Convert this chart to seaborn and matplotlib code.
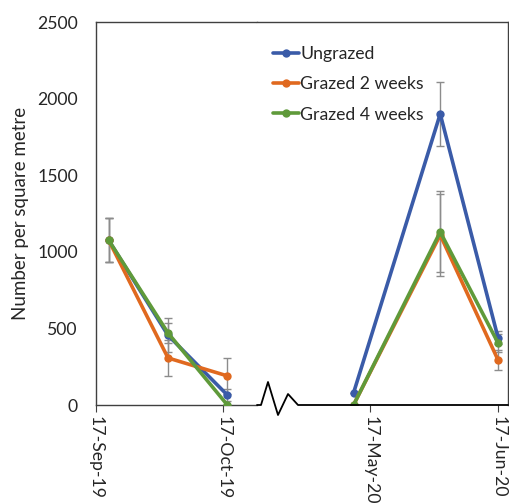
import pandas as pd
import matplotlib
matplotlib.use('Agg')
import matplotlib.pyplot as plt
import matplotlib.dates as mdates
import seaborn as sns

# sampling dates (two seasons, drawn on a broken axis)
left_dates = ['2019-09-20', '2019-10-04', '2019-10-18']
right_dates = ['2020-05-13', '2020-06-03', '2020-06-17']

treatments = ['Ungrazed', 'Grazed 2 weeks', 'Grazed 4 weeks']
colors = ['#3a5ba8', '#e0691f', '#5f9a3a']

ungrazed = [1075, 455, 65, 78, 1900, 440]
ungrazed_err = [144, 110, 40, 0, 210, 45]
grazed2 = [1075, 307, 190, 0, 1110, 294]
grazed2_err = [144, 117, 117, 0, 265, 65]
grazed4 = [1075, 470, 0, 0, 1130, 405]
grazed4_err = [144, 65, 0, 0, 265, 60]

left_ticks = ['2019-09-17', '2019-10-17']
right_ticks = ['2020-05-17', '2020-06-17']

sns.set_style('white')
plt.rcParams['font.family'] = ['Lato', 'DejaVu Sans']
fs = 12.7

dates = pd.to_datetime(left_dates + right_dates)
values = [ungrazed, grazed2, grazed4]
errors = [ungrazed_err, grazed2_err, grazed4_err]
rows = []
for t, v in zip(treatments, values):
    for d, val in zip(dates, v):
        rows.append({'date': d, 'value': val, 'treatment': t})
df = pd.DataFrame(rows)
df['season'] = ['left' if d.year == 2019 else 'right' for d in df['date']]

W, H = 510, 504
fig = plt.figure(figsize=(W / 100, H / 100), dpi=100)
x0, xb, x1 = 96, 257, 508
y_top, y_bot = 22, 405
axl = fig.add_axes([x0 / W, 1 - y_bot / H, (xb - x0) / W, (y_bot - y_top) / H])
axr = fig.add_axes([xb / W, 1 - y_bot / H, (x1 - xb) / W, (y_bot - y_top) / H])

spine_col = '#404040'
for ax, season, ticks in [(axl, 'left', left_ticks), (axr, 'right', right_ticks)]:
    sub = df[df['season'] == season]
    # error bars first so they sit behind the lines
    for t, e in zip(treatments, errors):
        s = sub[sub['treatment'] == t]
        idx = [0, 1, 2] if season == 'left' else [3, 4, 5]
        ax.errorbar(s['date'], s['value'], yerr=[e[i] for i in idx], fmt='none',
                    ecolor='#8c8c8c', elinewidth=1, capsize=3, capthick=1, zorder=1)
    sns.lineplot(data=sub, x='date', y='value', hue='treatment', hue_order=treatments,
                 palette=colors, marker='o', markersize=6, markeredgewidth=0,
                 linewidth=2.6, ax=ax, legend=(season == 'right'), zorder=3)
    ax.set_ylim(0, 2500)
    ax.set_xticks(pd.to_datetime(ticks))
    ax.xaxis.set_major_formatter(mdates.DateFormatter('%d-%b-%y'))
    ax.tick_params(axis='x', rotation=-90, length=5, direction='out', color=spine_col,
                   labelsize=fs, pad=3, bottom=True)
    ax.set_xlabel('')
    ax.set_ylabel('')
    for sp in ax.spines.values():
        sp.set_color(spine_col)
        sp.set_linewidth(1)

axl.set_xlim(pd.Timestamp('2019-09-17'), pd.Timestamp('2019-10-25'))
axr.set_xlim(pd.Timestamp('2020-04-19 15:00'), pd.Timestamp('2020-06-19 10:00'))

axl.set_yticks(range(0, 2501, 500))
axl.tick_params(axis='y', length=0, labelsize=fs, pad=13)
axl.spines['right'].set_visible(False)
axl.set_ylabel('Number per square metre', fontsize=13.5, labelpad=6)

axr.set_yticks([])
axr.spines['left'].set_visible(False)
axr.spines['bottom'].set_visible(False)

# bottom line of the second part with the axis-break zigzag
w = x1 - xb
h = y_bot - y_top
zx = [0, 4, 11, 21, 31, 41, w]
zy = [0, 0, 23, -10, 11, 0, 0]
axr.plot([p / w for p in zx], [p / h for p in zy], color='black', lw=1.3,
         transform=axr.transAxes, clip_on=False, zorder=5)

leg = axr.legend(loc='upper left', bbox_to_anchor=(0.035, 0.955), frameon=False,
                 handlelength=1.5, handletextpad=0.05, labelspacing=0.8, fontsize=fs,
                 borderaxespad=0)

fig.savefig('out.png', dpi=100)
